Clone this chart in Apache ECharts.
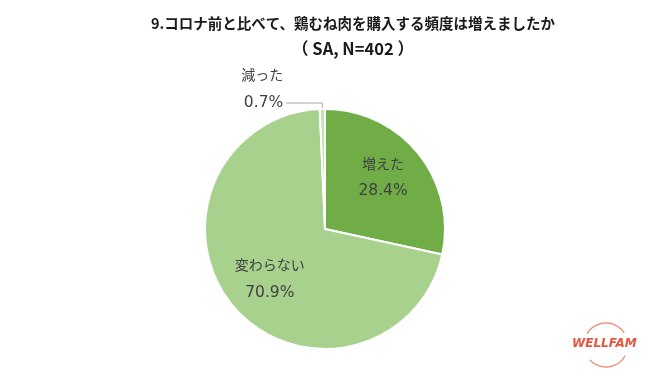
<!DOCTYPE html>
<html><head><meta charset="utf-8">
<script src="https://cdn.jsdelivr.net/npm/echarts@6/dist/echarts.min.js"></script>
<style>html,body{margin:0;padding:0;background:#fff}#c{width:650px;height:388px}</style>
</head><body><div id="c"></div>
<script>
const titleLine1 = '9.コロナ前と比べて、鶏むね肉を購入する頻度は増えましたか';
const titleLine2 = '（SA, N=402）';
const categories = ['増えた', '変わらない', '減った'];
const values = [28.4, 70.9, 0.7];
const colors = ['#70AD47', '#A9D18E', '#C5E0B4'];

const font = '"Noto Sans CJK JP", "Noto Sans", sans-serif';
const numFont = '"DejaVu Sans", sans-serif';
const chart = echarts.init(document.getElementById('c'));
const insideOffsets = [[9, -12], [-7, 9], [0, 0]];
chart.setOption({
  animation: false,
  backgroundColor: '#ffffff',
  title: {
    text: '{a|' + titleLine1 + '}\n{b|' + titleLine2.replace('（', '（ ').replace('）', ' ）') + '}',
    left: 348, top: 6, textAlign: 'center',
    textStyle: {
      rich: {
        a: { fontFamily: font, fontSize: 14.5, fontWeight: 'bold', color: '#1a1a1a', lineHeight: 25 },
        b: { fontFamily: font, fontSize: 16.5, fontWeight: 'bold', color: '#1a1a1a', lineHeight: 25 }
      }
    }
  },
  graphic: [
    { type: 'arc', shape: { cx: 606, cy: 345, r: 22, startAngle: -2.6, endAngle: -0.6 },
      style: { stroke: '#F08070', lineWidth: 1.2, fill: null }, opacity: 0.7 },
    { type: 'arc', shape: { cx: 606, cy: 345, r: 22, startAngle: 0.5, endAngle: 2.4 },
      style: { stroke: '#F08070', lineWidth: 1.2, fill: null }, opacity: 0.7 },
    { type: 'text', left: 572, top: 338,
      style: { text: 'WELLFAM', fill: '#E8553F', font: 'italic bold 12px "DejaVu Sans", sans-serif' } }
  ],
  series: [{
    type: 'pie',
    center: [325, 229],
    radius: [0, 120],
    startAngle: 90,
    clockwise: true,
    itemStyle: { borderColor: '#ffffff', borderWidth: 2 },
    label: {
      position: 'inside',
      formatter: p => '{n|' + p.name + '}\n{v|' + p.value.toFixed(1) + '%}',
      rich: {
        n: { fontFamily: font, fontSize: 14, color: '#404040', lineHeight: 28 },
        v: { fontFamily: numFont, fontSize: 15.5, color: '#404040', lineHeight: 28 }
      }
    },
    labelLayout: p => ({ dx: insideOffsets[p.dataIndex][0], dy: insideOffsets[p.dataIndex][1] }),
    data: categories.map((c, i) => {
      const d = { name: c, value: values[i], itemStyle: { color: colors[i] } };
      if (i === 2) {
        d.label = {
          position: 'outside',
          alignTo: 'none',
          formatter: p => '{n|' + p.name + '}\n{v|' + p.value.toFixed(1) + '%}\n{n| }',
          distanceToLabelLine: 3
        };
        d.labelLine = { show: true, length: 6, length2: 36, lineStyle: { color: '#A6A6A6', width: 1 } };
      }
      return d;
    })
  }]
});
</script></body></html>
